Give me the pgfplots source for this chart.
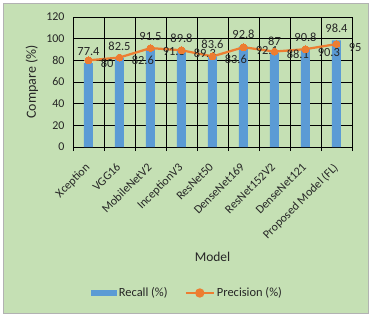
\documentclass[border=0pt]{standalone}
\usepackage{fontspec}
\setmainfont{Carlito}
\usepackage{pgfplots}
\pgfplotsset{compat=1.18}
\definecolor{bgreen}{HTML}{C5E0B4}
\definecolor{bblue}{HTML}{5B9BD5}
\definecolor{borange}{HTML}{ED7D31}
\begin{document}
\begin{tikzpicture}[x=1bp,y=1bp]
\fill[white] (0,0) rectangle (372,317);
\filldraw[fill=bgreen, draw=gray!60] (3,4) rectangle (368,314);
\begin{axis}[
  at={(73bp,170bp)}, anchor=south west,
  scale only axis, width=279bp, height=130bp,
  clip=false,
  /pgf/number format/assume math mode=true,
  xmin=-0.5, xmax=8.5, ymin=0, ymax=120,
  ytick={0,20,...,120},
  xtick={0,...,8},
  xticklabels={Xception,VGG16,MobileNetV2,InceptionV3,ResNet50,DenseNet169,ResNet152V2,DenseNet121,Proposed Model (FL)},
  minor xtick={-0.5,0.5,...,8.5},
  ymajorgrids, xminorgrids,
  grid style={black, line width=0.6bp},
  minor grid style={black, line width=0.6bp},
  axis line style={draw=none},
  major tick length=0pt,
  minor tick length=4bp,
  tick align=outside,
  xtick pos=bottom, ytick pos=left,
  minor tick style={black, line width=0.6bp},
  tick label style={font=\fontsize{12}{14}\selectfont, text=black!85},
  yticklabel style={xshift=-5bp},
  xticklabel style={anchor=north east, inner sep=0pt, xshift=-4bp, yshift=-15bp, rotate=45},
  xlabel={Model},
  xlabel style={at={(axis description cs:0.5,-0.846)}, anchor=center, font=\fontsize{13.5}{15}\selectfont, text=black!85},
  ylabel={Compare (\%)},
  ylabel style={at={(axis description cs:-0.147,0.5)}, anchor=center, font=\fontsize{14}{16}\selectfont, text=black!85},
  legend style={at={(axis description cs:0.41,-1.123)}, anchor=center, draw=none, fill=none,
    legend columns=2, font=\fontsize{12.5}{14}\selectfont, text=black!85,
    /tikz/every even column/.append style={column sep=15bp},
    legend cell align=left},
]
\addplot[ybar, bar width=9bp, fill=bblue, draw=none,
  nodes near coords,
  nodes near coords style={anchor=south, yshift=4bp, font=\fontsize{12.5}{14}\selectfont, text=black!85},
  legend image code/.code={\fill[bblue] (0bp,-3bp) rectangle (26bp,3bp);}]
  coordinates {(0,77.4) (1,82.5) (2,91.5) (3,89.8) (4,83.6) (5,92.8) (6,87) (7,90.8) (8,98.4)};
\addlegendentry{Recall (\%)}
\addplot[borange, line width=2.25pt, mark=*, mark size=3.5bp, mark options={fill=borange, line width=0pt},
  nodes near coords,
  nodes near coords style={anchor=west, xshift=9bp, yshift=-3bp, font=\fontsize{12.5}{14}\selectfont, text=black!85},
  legend image code/.code={\draw[borange, line width=2.25pt] (0bp,0bp) -- (28bp,0bp); \fill[borange] (14bp,0bp) circle (3.5bp);}]
  coordinates {(0,80) (1,82.6) (2,91.3) (3,89.3) (4,83.6) (5,92.1) (6,88.1) (7,90.3) (8,95)};
\addlegendentry{Precision (\%)}
\end{axis}
\end{tikzpicture}
\end{document}
